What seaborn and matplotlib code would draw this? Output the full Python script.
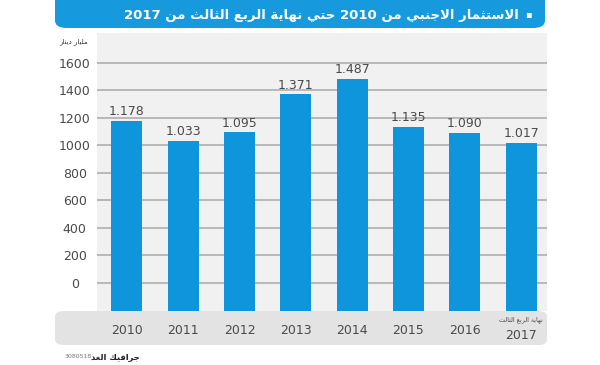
import numpy as np
import pandas as pd
import matplotlib
matplotlib.use("Agg")
import matplotlib.pyplot as plt
import matplotlib.transforms as mtransforms
from matplotlib.patches import FancyBboxPatch
import seaborn as sns

# data (millions of dinars)
years = ["2010", "2011", "2012", "2013", "2014", "2015", "2016", "2017"]
values = [1178, 1033, 1095, 1371, 1487, 1135, 1090, 1017]
yticks = [0, 200, 400, 600, 800, 1000, 1200, 1400, 1600]

title_txt = "الاستثمار الاجنبي من 2010 حتي نهاية الربع الثالث من 2017"
unit_txt = "مليار دينار"
last_txt = "نهاية الربع الثالث"
credit_txt = "جرافيك الغد"
code_txt = "3080518"

# --- tiny arabic shaper (matplotlib does no shaping / bidi) ---
FORMS = {
    'ا': ('\uFE8D', '\uFE8E', None, None),
    'ب': ('\uFE8F', '\uFE90', '\uFE91', '\uFE92'),
    'ت': ('\uFE95', '\uFE96', '\uFE97', '\uFE98'),
    'ث': ('\uFE99', '\uFE9A', '\uFE9B', '\uFE9C'),
    'ج': ('\uFE9D', '\uFE9E', '\uFE9F', '\uFEA0'),
    'ح': ('\uFEA1', '\uFEA2', '\uFEA3', '\uFEA4'),
    'د': ('\uFEA9', '\uFEAA', None, None),
    'ر': ('\uFEAD', '\uFEAE', None, None),
    'س': ('\uFEB1', '\uFEB2', '\uFEB3', '\uFEB4'),
    'ع': ('\uFEC9', '\uFECA', '\uFECB', '\uFECC'),
    'غ': ('\uFECD', '\uFECE', '\uFECF', '\uFED0'),
    'ف': ('\uFED1', '\uFED2', '\uFED3', '\uFED4'),
    'ك': ('\uFED9', '\uFEDA', '\uFEDB', '\uFEDC'),
    'ل': ('\uFEDD', '\uFEDE', '\uFEDF', '\uFEE0'),
    'م': ('\uFEE1', '\uFEE2', '\uFEE3', '\uFEE4'),
    'ن': ('\uFEE5', '\uFEE6', '\uFEE7', '\uFEE8'),
    'ه': ('\uFEE9', '\uFEEA', '\uFEEB', '\uFEEC'),
    'ة': ('\uFE93', '\uFE94', None, None),
    'ي': ('\uFEF1', '\uFEF2', '\uFEF3', '\uFEF4'),
    'ى': ('\uFEEF', '\uFEF0', None, None),
}


def shape(word):
    seq, i = [], 0
    while i < len(word):
        if word[i] == 'ل' and i + 1 < len(word) and word[i + 1] == 'ا':
            seq.append('LA')
            i += 2
        else:
            seq.append(word[i])
            i += 1

    def dual(c):
        return c in FORMS and FORMS[c][2] is not None

    out = []
    for k, c in enumerate(seq):
        prev = seq[k - 1] if k > 0 else None
        nxt = seq[k + 1] if k + 1 < len(seq) else None
        jp = prev is not None and prev != 'LA' and dual(prev)
        if c == 'LA':
            out.append('\uFEFC' if jp else '\uFEFB')
            continue
        if c not in FORMS:
            out.append(c)
            continue
        jn = dual(c) and nxt is not None and (nxt == 'LA' or nxt in FORMS)
        iso, fin, ini, med = FORMS[c]
        if jp and jn:
            out.append(med)
        elif jp:
            out.append(fin)
        elif jn:
            out.append(ini)
        else:
            out.append(iso)
    return ''.join(out)


def ar(text):
    parts = []
    for t in reversed(text.split(' ')):
        parts.append(t if t.isdigit() else shape(t)[::-1])
    return ' '.join(parts)


sns.set_style("white")
plt.rcParams['font.family'] = ['DejaVu Sans']

df = pd.DataFrame({"year": years, "value": values})

fig = plt.figure(figsize=(6, 3.65), dpi=100)
ax = fig.add_axes([97 / 600, 54 / 365, 450 / 600, 278 / 365])

ymin, ymax = -204, 1818

# grey band behind the year labels
band = FancyBboxPatch((55 / 600, 20 / 365), 492 / 600, 34 / 365,
                      boxstyle="round,pad=0,rounding_size=0.015",
                      transform=fig.transFigure, facecolor="#e3e3e3",
                      edgecolor="none", zorder=-5)
fig.patches.append(band)

# blue title banner
banner = FancyBboxPatch((55 / 600, 337 / 365), 490 / 600, 45 / 365,
                        boxstyle="round,pad=0,rounding_size=0.02",
                        transform=fig.transFigure, facecolor="#1699dd",
                        edgecolor="none", zorder=-5)
fig.patches.append(banner)

ax.set_facecolor("#f1f1f1")
sns.barplot(data=df, x="year", y="value", color="#0f95dc", saturation=1,
            width=0.55, ax=ax, zorder=3, edgecolor="none", linewidth=0)
for p in ax.patches:
    h = p.get_height()
    p.set_y(ymin)
    p.set_height(h - ymin)

ax.set_ylim(ymin, ymax)
ax.set_xlim(-0.53, len(years) - 0.54)
ax.set_yticks(yticks)
ax.set_yticklabels([str(v) for v in yticks])
ax.yaxis.grid(True, color="#a9a9a9", linewidth=1.1, zorder=1)
ax.set_axisbelow(True)
for s in ax.spines.values():
    s.set_visible(False)
ax.set_xlabel("")
ax.set_ylabel("")
ax.tick_params(axis="both", length=0, labelsize=9, colors="#4a4a4a")
ax.tick_params(axis="y", pad=16)
for lab in ax.get_yticklabels():
    lab.set_horizontalalignment("center")
ax.tick_params(axis="x", pad=9)

# last label sits lower, with a small arabic caption above
last = ax.get_xticklabels()[-1]
last.set_transform(last.get_transform() +
                   mtransforms.ScaledTranslation(0, -4 / 72, fig.dpi_scale_trans))
ax.annotate(ar(last_txt), xy=(len(years) - 1, 0), xycoords=("data", "axes fraction"),
            xytext=(0, -6), textcoords="offset points", ha="center", va="center",
            fontsize=4.6, color="#4a4a4a")

labels = ["{:.3f}".format(v / 1000) for v in values]
ax.bar_label(ax.containers[0], labels=labels, padding=2,
             fontsize=9, color="#4a4a4a")

# title, unit, credits
fig.text(528 / 600, 1 - 14 / 365, "▪", color="white", fontsize=7,
         ha="center", va="center")
fig.text(519 / 600, 1 - 16 / 365, ar(title_txt), color="white", fontsize=9.5,
         fontweight="bold", ha="right", va="center")
fig.text(74 / 600, 1 - 42 / 365, ar(unit_txt), color="#333333", fontsize=5,
         ha="center", va="center")
fig.text(140 / 600, 1 - 357 / 365, ar(credit_txt), color="#222222", fontsize=6,
         fontweight="bold", ha="right", va="center")
fig.text(92 / 600, 1 - 357 / 365, code_txt, color="#777777", fontsize=4.5,
         ha="right", va="center")

fig.savefig("out.png", dpi=100)
